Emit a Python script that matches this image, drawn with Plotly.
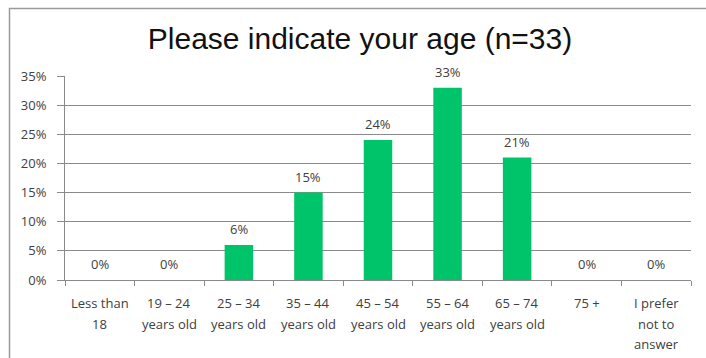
import plotly.graph_objects as go

# Age bands and share of respondents (percent), n = 33
categories = [
    "Less than<br>18",
    "19 – 24<br>years old",
    "25 – 34<br>years old",
    "35 – 44<br>years old",
    "45 – 54<br>years old",
    "55 – 64<br>years old",
    "65 – 74<br>years old",
    "75 +",
    "I prefer<br>not to<br>answer",
]
shares = [0, 0, 6, 15, 24, 33, 21, 0, 0]
value_labels = ["0%", "0%", "6%", "15%", "24%", "33%", "21%", "0%", "0%"]
y_ticks = [0, 5, 10, 15, 20, 25, 30, 35]
y_tick_text = ["0%", "5%", "10%", "15%", "20%", "25%", "30%", "35%"]

BAR_GREEN = "#00C46A"
LINE_GRAY = "#8A8A8A"
TEXT_GRAY = "#404040"
BODY_FONT = "'Open Sans', Lato, sans-serif"
BODY_SIZE = 13

fig = go.Figure(
    go.Bar(
        x=categories,
        y=shares,
        marker=dict(color=BAR_GREEN, line=dict(width=0)),
        hoverinfo="skip",
    )
)

annotations = []
# value labels above each bar
for cat, val, lab in zip(categories, shares, value_labels):
    annotations.append(dict(
        x=cat, y=val, xref="x", yref="y", text=lab, showarrow=False,
        yanchor="middle", yshift=16,
        font=dict(family=BODY_FONT, size=BODY_SIZE, color=TEXT_GRAY),
    ))
# category labels, one annotation per line for wider line spacing
for cat in categories:
    for i, line in enumerate(cat.split("<br>")):
        annotations.append(dict(
            x=cat, y=0, xref="x", yref="paper", text=line, showarrow=False,
            yanchor="middle", yshift=-23 - 20.5 * i,
            font=dict(family=BODY_FONT, size=BODY_SIZE, color=TEXT_GRAY),
        ))

fig.update_layout(
    width=706,
    height=358,
    margin=dict(l=65, r=15, t=76, b=78),
    paper_bgcolor="white",
    plot_bgcolor="white",
    showlegend=False,
    bargap=0.59,
    title=dict(
        text="Please indicate your age (n=33)",
        x=360 / 706, xref="container", xanchor="center",
        y=1 - 38 / 358, yref="container", yanchor="middle",
        font=dict(family="Liberation Sans, Arial, sans-serif", size=30, color="#111111"),
    ),
    xaxis=dict(
        type="category",
        showticklabels=False,
        tickson="boundaries",
        ticks="outside",
        ticklen=5,
        tickcolor=LINE_GRAY,
        showline=True,
        linecolor=LINE_GRAY,
        linewidth=1,
        showgrid=False,
        fixedrange=True,
    ),
    yaxis=dict(
        range=[0, 35],
        tickvals=y_ticks,
        ticktext=y_tick_text,
        ticks="outside",
        ticklen=7,
        tickcolor=LINE_GRAY,
        showline=True,
        linecolor=LINE_GRAY,
        linewidth=1,
        showgrid=True,
        gridcolor=LINE_GRAY,
        gridwidth=1,
        zeroline=False,
        tickfont=dict(family=BODY_FONT, size=BODY_SIZE, color=TEXT_GRAY),
        ticklabelstandoff=8,
        fixedrange=True,
    ),
    annotations=annotations,
    shapes=[
        # outer chart frame
        dict(
            type="rect", xref="paper", yref="paper",
            x0=(9.5 - 65) / 626, x1=1.06,
            y0=-0.45, y1=(280 - 8.5) / 204,
            line=dict(color="#9A9A9A", width=1.5),
            layer="below",
        )
    ],
)

fig.write_html("out.html")
